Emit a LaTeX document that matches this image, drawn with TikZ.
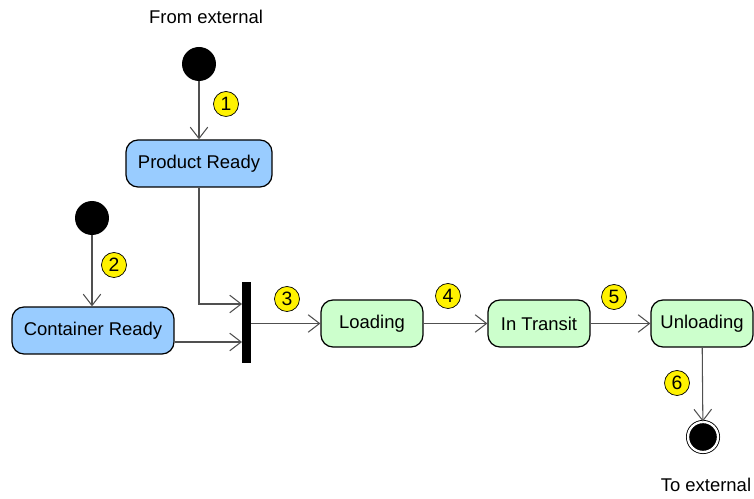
\documentclass[tikz,border=0pt]{standalone}
\usepackage{fontspec}
\setmainfont{Liberation Sans}
\usetikzlibrary{arrows.meta}

\definecolor{prepblue}{HTML}{99CCFF}
\definecolor{movegreen}{HTML}{CCFFCC}
\definecolor{flowgray}{HTML}{505050}

\begin{document}
\begin{tikzpicture}[
        x=0.02cm, y=-0.02cm,
        font=\fontsize{10.5}{12}\selectfont,
        start/.style={circle, fill=black, minimum size=0.68cm, inner sep=0pt},
        finish/.style={circle, fill=black, draw=black, double=white, double distance=1.3pt,
            line width=0.5pt, minimum size=0.6cm, inner sep=0pt},
        state/.style={rectangle, rounded corners=0.24cm, draw=black, line width=0.7pt,
            minimum height=0.94cm, inner sep=2pt},
        prep/.style={state, fill=prepblue},
        move/.style={state, fill=movegreen, minimum width=2.04cm},
        badge/.style={circle, fill=yellow, draw=black, line width=0.4pt,
            minimum size=0.5cm, inner sep=0pt, font=\fontsize{11}{12}\selectfont},
        syncbar/.style={rectangle, fill=black, minimum width=0.18cm, minimum height=1.62cm, inner sep=0pt},
        flow/.style={draw=flowgray, line width=0.6pt, -{Straight Barb[length=6.5pt, width=10pt, line width=0.6pt]}}
    ]
        \useasboundingbox (0,0) rectangle (754,499);

        % product branch
        \node (from_ext) at (206,17) {From external};
        \node[start] (start_1) at (199,64) {};
        \node[prep, minimum width=2.92cm] (st_product) at (199,163.5) {Product Ready};
        \draw[flow] (start_1) -- (st_product);
        \node[badge] (badge_1) at (226,104) {1};

        % container branch
        \node[start] (start_2) at (92,218) {};
        \node[prep, minimum width=3.24cm] (st_container) at (93,330.5) {Container Ready};
        \draw[flow] (start_2) -- (start_2 |- st_container.north);
        \node[badge] (badge_2) at (114,265) {2};

        % join
        \node[syncbar] (join) at (246.5,322.5) {};
        \coordinate (join_a) at (242,304);
        \coordinate (join_b) at (242,342);
        \draw[flow] (st_product.south) |- (join_a);
        \draw[flow] (st_container.east |- join_b) -- (join_b);

        % shipping
        \node[move] (st_loading) at (372,323.5) {Loading};
        \node[move] (st_transit) at (539,323.5) {In Transit};
        \node[move] (st_unloading) at (702,323.5) {Unloading};
        \draw[flow] (join.east |- st_loading) -- (st_loading);
        \draw[flow] (st_loading) -- (st_transit);
        \draw[flow] (st_transit) -- (st_unloading);
        \node[badge] (badge_3) at (287,299) {3};
        \node[badge] (badge_4) at (448,296) {4};
        \node[badge] (badge_5) at (614,297) {5};

        % end
        \node[finish] (end_1) at (703,437) {};
        \draw[flow] (st_unloading) -- (end_1);
        \node[badge] (badge_6) at (677,383) {6};
        \node (to_ext) at (706,485) {To external};
    \end{tikzpicture}
\end{document}
